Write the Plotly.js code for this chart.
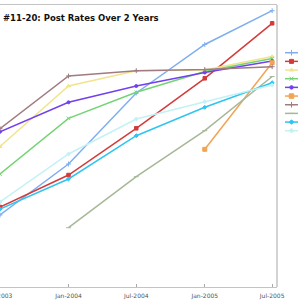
<!DOCTYPE html>
<html>
<head>
<meta charset="utf-8">
<script src="https://cdn.plot.ly/plotly-3.0.1.min.js"></script>
<style>html,body{margin:0;padding:0;background:#fff;}#chart{width:300px;height:300px;}</style>
</head>
<body>
<div id="chart"></div>
<script>
// ---- data ----
var dates = ["2003-07-01", "2004-01-01", "2004-07-01", "2005-01-01", "2005-07-01"];
var tickLabels = ["Jul-2003", "Jan-2004", "Jul-2004", "Jan-2005", "Jul-2005"];
var seriesNames = ["Site 11", "Site 12", "Site 13", "Site 14", "Site 15", "Site 16", "Site 17", "Site 18", "Site 19", "Site 20"];
var s11 = [72, 123, 194, 242.5, 276.3];
var s12 = [80, 112, 158.7, 208.7, 263.7];
var s13 = [140.5, 201, 216.3, 217, 230.5];
var s14 = [113, 168.7, 194.7, 215.5, 228.5];
var s15 = [155.3, 184.7, 201, 214.5, 226];
var s16 = [null, null, null, 137.7, 224.3];
var s17 = [158.3, 211, 216.3, 217.5, 220.3];
var s18 = [null, 59.3, 110.3, 156.3, 210.5];
var s19 = [78, 108, 151.3, 179.7, 204.3];
var s20 = [85, 133, 168, 185.3, 202];

// ---- styles ----
var seriesValues = [s11, s12, s13, s14, s15, s16, s17, s18, s19, s20];
var colors = ["#7eaef0", "#d43a3a", "#f2e48c", "#74d474", "#7240ee", "#f2a454", "#a07c80", "#a6b898", "#30c4f0", "#c4f2f4"];
var symbols = ["cross-thin", "square", "triangle-up", "x-thin", "circle", "square", "cross-thin", "line-ew", "diamond", "diamond"];
var sizes = [3.5, 3.5, 3.5, 3.5, 3, 4, 3.5, 3.5, 3, 3];

var traces = [];
seriesValues.forEach(function (vals, i) {
  traces.push({
    type: "scatter", mode: "lines+markers",
    x: dates, y: vals, name: seriesNames[i], showlegend: false,
    connectgaps: false,
    line: {color: colors[i], width: 1.5},
    marker: {color: colors[i], symbol: symbols[i], size: sizes[i], line: {color: colors[i], width: 1}},
    hoverinfo: "skip", cliponaxis: true
  });
});

// manual legend (sample line + marker) in its own small axes
var annotations = [];
seriesNames.forEach(function (nm, i) {
  var yy = 52.7 + i * 8.67;
  traces.push({
    type: "scatter", mode: "lines", xaxis: "x2", yaxis: "y2",
    x: [3, 16], y: [yy, yy], showlegend: false, hoverinfo: "skip",
    line: {color: colors[i], width: 1.5}
  });
  traces.push({
    type: "scatter", mode: "markers", xaxis: "x2", yaxis: "y2",
    x: [9.5], y: [yy], showlegend: false, hoverinfo: "skip",
    marker: {color: colors[i], symbol: symbols[i], size: sizes[i] + 0.5, line: {color: colors[i], width: 1}}
  });
  annotations.push({
    xref: "x2", yref: "y2", x: 16.6, y: yy, xanchor: "left", yanchor: "middle",
    text: nm, showarrow: false, font: {family: "DejaVu Sans", size: 6.5, color: "#555"}
  });
});

var layout = {
  width: 300, height: 300,
  margin: {l: 0, r: 0, t: 5, b: 13},
  paper_bgcolor: "#fff", plot_bgcolor: "#fff",
  showlegend: false,
  title: {
    text: "#11-20: Post Rates Over 2 Years",
    x: 0.01, xref: "paper", xanchor: "left",
    y: 1 - 18 / 300, yref: "container", yanchor: "middle",
    font: {family: "DejaVu Sans", size: 8.5, weight: 700, color: "#111"}
  },
  xaxis: {
    type: "date", domain: [0, 277 / 300],
    range: ["2003-07-01", "2005-07-14"],
    tickvals: dates, ticktext: tickLabels,
    ticks: "inside", ticklen: 3, tickcolor: "#aaa",
    ticklabeloverflow: "allow", ticklabelstandoff: 3,
    showgrid: false, zeroline: false,
    showline: true, linecolor: "#c4c4c4", linewidth: 1, mirror: true,
    tickfont: {family: "DejaVu Sans", size: 6, color: "#555"},
    fixedrange: true
  },
  yaxis: {
    range: [0, 282], showgrid: false, zeroline: false, showline: false,
    showticklabels: false, ticks: "", fixedrange: true
  },
  xaxis2: {domain: [282 / 300, 1], range: [0, 18], visible: false, fixedrange: true, anchor: "y2"},
  yaxis2: {domain: [0, 1], range: [287, 5], visible: false, fixedrange: true, anchor: "x2"},
  shapes: [
    {type: "line", xref: "x domain", yref: "y domain", x0: 1, x1: 1, y0: 0, y1: 1,
     line: {color: "#c4c4c4", width: 1.5}}
  ],
  annotations: annotations
};

Plotly.newPlot("chart", traces, layout, {staticPlot: true, displayModeBar: false});
</script>
</body>
</html>
